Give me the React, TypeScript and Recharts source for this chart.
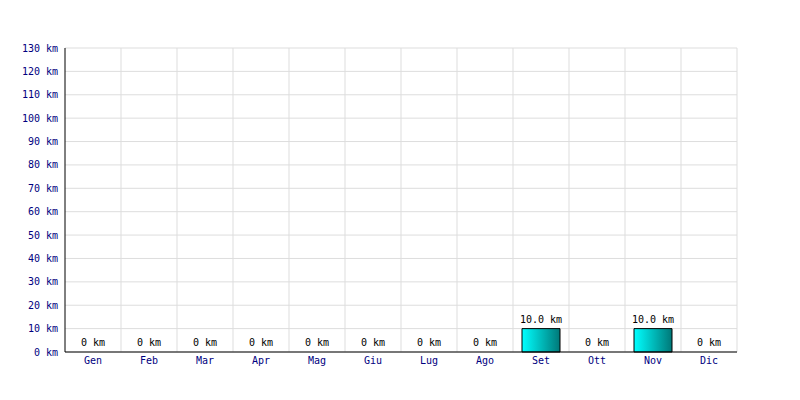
import { BarChart, Bar, XAxis, YAxis, CartesianGrid, LabelList, Cell } from 'recharts'

const months = ['Gen', 'Feb', 'Mar', 'Apr', 'Mag', 'Giu', 'Lug', 'Ago', 'Set', 'Ott', 'Nov', 'Dic']
const distances = [0, 0, 0, 0, 0, 0, 0, 0, 10, 0, 10, 0]
const yTicks = [0, 10, 20, 30, 40, 50, 60, 70, 80, 90, 100, 110, 120, 130]

const data = months.map((m, i) => ({ month: m, km: distances[i] }))

const mono = 'DejaVu Sans Mono, monospace'

const fmtKm = (v: number) => (v === 0 ? '0 km' : `${v.toFixed(1)} km`)

// plain text above each bar, no width wrapping
function ValueLabel(props: any) {
  const { x, y, width, height, value } = props
  if (x == null || y == null) return null
  // zero bars get a 1px min size so they keep a label; anchor on the baseline
  const top = Number(value) === 0 ? Number(y) + Number(height) : Number(y)
  return (
    <text
      x={Number(x) + Number(width) / 2}
      y={top - 6}
      textAnchor="middle"
      fill="#000"
      fontSize={10}
      fontFamily={mono}
    >
      {fmtKm(Number(value))}
    </text>
  )
}

export default function App() {
  return (
    <div style={{ position: 'absolute', left: 0, top: 0, width: 800, height: 400, background: '#fff' }}>
      <BarChart
        width={800}
        height={400}
        data={data}
        margin={{ top: 48, right: 63, bottom: 0, left: 0 }}
        barSize={38}
      >
        <defs>
          <linearGradient id="barFill" x1="0" y1="0" x2="1" y2="0">
            <stop offset="0%" stopColor="#00ffff" />
            <stop offset="100%" stopColor="#007878" />
          </linearGradient>
        </defs>
        <CartesianGrid
          stroke="#dddddd"
          verticalCoordinatesGenerator={({ offset }: any) =>
            months.map((_, i) => offset.left + ((i + 1) * offset.width) / months.length)
          }
        />
        <XAxis
          dataKey="month"
          height={48}
          tickSize={0}
          tickMargin={5}
          axisLine={{ stroke: '#000' }}
          tick={{ fill: '#000080', fontSize: 10, fontFamily: mono }}
        />
        <YAxis
          width={65}
          domain={[0, 130]}
          ticks={yTicks}
          interval={0}
          tickSize={0}
          tickMargin={7}
          axisLine={{ stroke: '#000' }}
          tickFormatter={(v: number) => `${v} km`}
          tick={{ fill: '#000080', fontSize: 10, fontFamily: mono }}
        />
        <Bar dataKey="km" minPointSize={1} isAnimationActive={false}>
          {data.map(d => (
            <Cell
              key={d.month}
              fill={d.km > 0 ? 'url(#barFill)' : 'none'}
              stroke={d.km > 0 ? '#000' : 'none'}
              strokeWidth={1}
            />
          ))}
          <LabelList dataKey="km" content={ValueLabel} />
        </Bar>
      </BarChart>
    </div>
  )
}
